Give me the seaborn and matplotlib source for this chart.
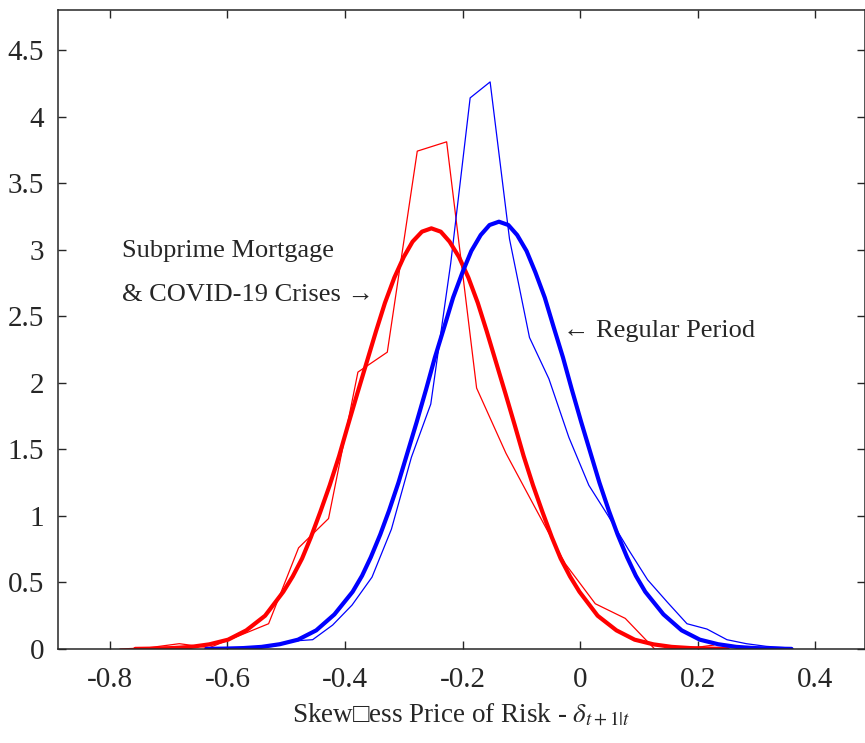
import seaborn as sns
import matplotlib.pyplot as plt
import pandas as pd
from matplotlib.ticker import FormatStrFormatter

# histogram-style densities (thin lines)
crisis_x = [-0.783, -0.733, -0.682, -0.631, -0.580, -0.530, -0.479, -0.428, -0.378, -0.328, -0.277,
            -0.227, -0.176, -0.126, -0.075, -0.025, 0.026, 0.077, 0.127, 0.178, 0.228]
crisis_y = [0.0, 0.01, 0.04, 0.01, 0.10, 0.19, 0.76, 0.98, 2.08, 2.23, 3.74,
            3.81, 1.96, 1.47, 1.05, 0.64, 0.34, 0.23, 0.0, 0.0, 0.03]

regular_x = [-0.622, -0.589, -0.555, -0.522, -0.488, -0.455, -0.421, -0.388, -0.354, -0.321, -0.287,
             -0.254, -0.220, -0.187, -0.153, -0.120, -0.086, -0.053, -0.019, 0.015, 0.048,
             0.082, 0.115, 0.149, 0.182, 0.216, 0.250, 0.283, 0.317, 0.350]
regular_y = [0.0, 0.0, 0.01, 0.02, 0.06, 0.07, 0.18, 0.33, 0.54, 0.90, 1.44,
             1.84, 2.90, 4.14, 4.26, 3.08, 2.34, 2.03, 1.59, 1.23, 1.00,
             0.75, 0.52, 0.35, 0.19, 0.15, 0.07, 0.04, 0.02, 0.01]

# fitted curves (thick lines)
crisis_fit_x = [-0.757, -0.726, -0.694, -0.662, -0.631, -0.599, -0.568, -0.536,
                -0.505, -0.489, -0.473, -0.458, -0.442, -0.426, -0.410, -0.395, -0.379, -0.363,
                -0.347, -0.332, -0.316, -0.300, -0.285, -0.269, -0.253, -0.237, -0.222, -0.206,
                -0.190, -0.174, -0.159, -0.143, -0.127, -0.111, -0.096, -0.080, -0.064, -0.048,
                -0.033, -0.017, -0.001,
                0.030, 0.062, 0.093, 0.125, 0.156, 0.188, 0.219, 0.251]
crisis_fit_y = [0.001, 0.003, 0.007, 0.016, 0.035, 0.07, 0.14, 0.25,
                0.43, 0.545, 0.68, 0.84, 1.03, 1.23, 1.45, 1.68, 1.92, 2.155,
                2.39, 2.60, 2.79, 2.945, 3.06, 3.135, 3.16, 3.135, 3.06, 2.945,
                2.79, 2.60, 2.39, 2.155, 1.92, 1.68, 1.45, 1.23, 1.03, 0.84,
                0.68, 0.545, 0.43,
                0.25, 0.14, 0.07, 0.035, 0.016, 0.007, 0.003, 0.001]

regular_fit_x = [-0.636, -0.605, -0.573, -0.542, -0.511, -0.480, -0.449, -0.418,
                 -0.387, -0.371, -0.356, -0.340, -0.325, -0.309, -0.294, -0.278, -0.262, -0.247,
                 -0.231, -0.216, -0.200, -0.185, -0.169, -0.154, -0.138, -0.122, -0.107, -0.091,
                 -0.076, -0.060, -0.045, -0.029, -0.014, 0.002, 0.018, 0.033, 0.049, 0.064,
                 0.080, 0.095, 0.111,
                 0.142, 0.173, 0.204, 0.235, 0.266, 0.297, 0.329, 0.360]
regular_fit_y = [0.001, 0.003, 0.007, 0.016, 0.036, 0.07, 0.14, 0.26,
                 0.43, 0.55, 0.69, 0.86, 1.04, 1.25, 1.47, 1.705, 1.95, 2.19,
                 2.42, 2.64, 2.83, 2.99, 3.11, 3.185, 3.21, 3.185, 3.11, 2.99,
                 2.83, 2.64, 2.42, 2.19, 1.95, 1.705, 1.47, 1.25, 1.04, 0.86,
                 0.69, 0.55, 0.43,
                 0.26, 0.14, 0.07, 0.036, 0.016, 0.007, 0.003, 0.001]

sns.set_style('ticks', {'xtick.direction': 'in', 'ytick.direction': 'in',
                        'axes.edgecolor': '#262626'})
plt.rcParams['font.family'] = ['Liberation Serif', 'DejaVu Serif']
plt.rcParams['mathtext.fontset'] = 'stix'
plt.rcParams['axes.unicode_minus'] = False

fig = plt.figure(figsize=(8.65, 7.43), dpi=100)
ax = fig.add_axes([0.067, 0.1265, 0.933, 0.86])

thin = pd.DataFrame({'x': crisis_x, 'y': crisis_y})
sns.lineplot(data=thin, x='x', y='y', color='red', linewidth=0.9, sort=False, ax=ax)
thin = pd.DataFrame({'x': regular_x, 'y': regular_y})
sns.lineplot(data=thin, x='x', y='y', color='blue', linewidth=0.9, sort=False, ax=ax)
fit = pd.DataFrame({'x': crisis_fit_x, 'y': crisis_fit_y})
sns.lineplot(data=fit, x='x', y='y', color='red', linewidth=3.0, sort=False, ax=ax)
fit = pd.DataFrame({'x': regular_fit_x, 'y': regular_fit_y})
sns.lineplot(data=fit, x='x', y='y', color='blue', linewidth=3.0, sort=False, ax=ax)

ax.set_xlim(-0.8885, 0.485)
ax.set_ylim(0, 4.8)
ax.set_xticks([-0.8, -0.6, -0.4, -0.2, 0, 0.2, 0.4])
ax.set_yticks([0, 0.5, 1, 1.5, 2, 2.5, 3, 3.5, 4, 4.5])
ax.xaxis.set_major_formatter(FormatStrFormatter('%g'))
ax.yaxis.set_major_formatter(FormatStrFormatter('%g'))
ax.tick_params(axis='both', labelsize=21, labelcolor='#262626', length=6, width=1,
               top=True, right=True)
ax.tick_params(axis='x', pad=13)
ax.tick_params(axis='y', pad=10)
for s in ax.spines.values():
    s.set_linewidth(1.1)

ax.set_xlabel('Skew\u25a1' + r'ess Price of Risk - $\delta_{t+1|t}$', fontsize=19.5,
              color='#262626', labelpad=6)
ax.set_ylabel('')

ax.text(-0.780, 2.99, 'Subprime Mortgage', fontsize=19, va='center', ha='left')
ax.text(-0.780, 2.66, '& COVID-19 Crises \u2192', fontsize=19, va='center', ha='left')
ax.text(-0.029, 2.39, '\u2190 Regular Period', fontsize=19, va='center', ha='left')

fig.savefig('out.png', dpi=100)
